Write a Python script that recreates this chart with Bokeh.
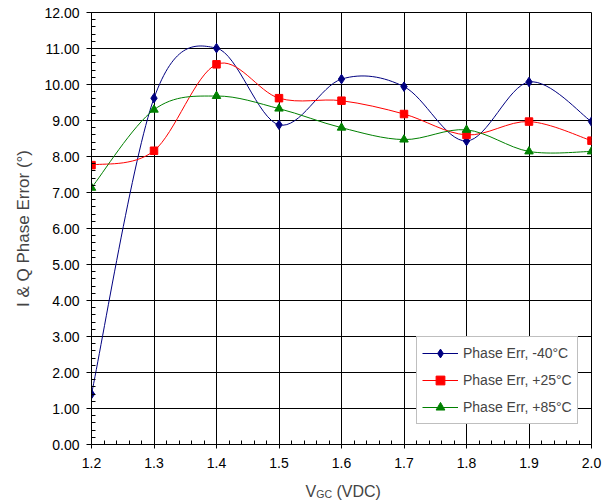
import numpy as np
from bokeh.plotting import figure
from bokeh.layouts import column
from bokeh.models import (Range1d, FixedTicker, NumeralTickFormatter, Legend, LegendItem, Label)
from bokeh.embed import file_html
from bokeh.resources import INLINE

# ---- data ----
vgc = [1.2, 1.3, 1.4, 1.5, 1.6, 1.7, 1.8, 1.9, 2.0]
err_m40 = [1.40, 9.62, 11.01, 8.88, 10.15, 9.94, 8.43, 10.07, 8.97]
err_p25 = [7.76, 8.16, 10.56, 9.62, 9.55, 9.18, 8.60, 8.97, 8.44]
err_p85 = [7.13, 9.30, 9.68, 9.33, 8.80, 8.47, 8.74, 8.14, 8.14]
labels = ["Phase Err, -40°C", "Phase Err, +25°C", "Phase Err, +85°C"]
y_major = [0, 1, 2, 3, 4, 5, 6, 7, 8, 9, 10, 11, 12]
x_major = [1.2, 1.3, 1.4, 1.5, 1.6, 1.7, 1.8, 1.9, 2.0]

FONT = "Liberation Sans"

p = figure(width=605, height=473, output_backend="svg", toolbar_location=None,
           x_range=Range1d(1.2, 2.0), y_range=Range1d(0, 12),
           min_border_left=91, min_border_right=14, min_border_top=12, min_border_bottom=29)
p.background_fill_color = "white"
p.border_fill_color = "white"
p.outline_line_color = "black"
p.outline_line_width = 1

# axes
y_minor = [round(v, 2) for v in np.arange(0, 12.001, 0.2)]
x_minor = [round(v, 3) for v in np.arange(1.2, 2.0001, 0.02)]
p.yaxis.ticker = FixedTicker(ticks=y_major, minor_ticks=y_minor)
p.xaxis.ticker = FixedTicker(ticks=x_major, minor_ticks=x_minor)
p.yaxis.formatter = NumeralTickFormatter(format="0.00")
p.xaxis.formatter = NumeralTickFormatter(format="0.0")
for ax in (p.xaxis[0], p.yaxis[0]):
    ax.axis_line_color = "black"
    ax.major_tick_line_color = "black"
    ax.minor_tick_line_color = "black"
    ax.major_tick_in = 0
    ax.minor_tick_in = 4
    ax.minor_tick_out = 0
    ax.major_label_text_font = FONT
    ax.major_label_text_font_size = "14px"
    ax.major_label_text_color = "black"
p.yaxis.major_tick_out = 5
p.xaxis.major_tick_out = 4
p.yaxis.major_label_standoff = 7
p.xaxis.major_label_standoff = 9
p.yaxis.axis_label = "I & Q Phase Error (°)"
p.yaxis.axis_label_text_font = FONT
p.yaxis.axis_label_text_font_size = "17px"
p.yaxis.axis_label_text_font_style = "normal"
p.yaxis.axis_label_standoff = 8

p.xgrid.grid_line_color = "black"
p.ygrid.grid_line_color = "black"
p.xgrid.grid_line_width = 1
p.ygrid.grid_line_width = 1


def smooth_segments(xs, ys):
    x = np.array(xs, dtype=float)
    y = np.array(ys, dtype=float)
    xp = np.concatenate([[x[0]], x, [x[-1]]])
    yp = np.concatenate([[y[0]], y, [y[-1]]])
    n = len(x)
    d = dict(x0=[], y0=[], x1=[], y1=[], cx0=[], cy0=[], cx1=[], cy1=[])
    for i in range(n - 1):
        a, b, c, e = i, i + 1, i + 2, i + 3
        d["x0"].append(xp[b]); d["y0"].append(yp[b])
        d["x1"].append(xp[c]); d["y1"].append(yp[c])
        d["cx0"].append(xp[b] + (xp[c] - xp[a]) / 6); d["cy0"].append(yp[b] + (yp[c] - yp[a]) / 6)
        d["cx1"].append(xp[c] - (xp[e] - xp[b]) / 6); d["cy1"].append(yp[c] - (yp[e] - yp[b]) / 6)
    return d


series = [
    (err_m40, "#000080", "diamond", 9.5),
    (err_p25, "#FF0000", "square", 7.5),
    (err_p85, "#008000", "triangle", 8.5),
]
items = []
for (vals, col, mk, sz), lab in zip(series, labels):
    seg = smooth_segments(vgc, vals)
    r_line = p.bezier(source=seg, x0="x0", y0="y0", x1="x1", y1="y1",
                      cx0="cx0", cy0="cy0", cx1="cx1", cy1="cy1",
                      line_color=col, line_width=1)
    r_pts = p.scatter(vgc, vals, marker=mk, size=sz,
                      fill_color=col, line_color=col)
    items.append(LegendItem(label=lab, renderers=[r_line, r_pts]))

legend = Legend(items=items, location=(325, 20))
legend.label_text_font = FONT
legend.label_text_font_size = "14px"
legend.glyph_width = 36
legend.glyph_height = 22
legend.label_height = 22
legend.label_standoff = 5
legend.spacing = 5
legend.padding = 5
legend.margin = 0
legend.border_line_color = "#808080"
legend.border_line_width = 1
legend.background_fill_color = "white"
legend.background_fill_alpha = 1
p.add_layout(legend, "center")

# x-axis title (with subscript) in a strip below the chart; x relative to the aligned frame left
t = figure(width=605, height=27, output_backend="svg", toolbar_location=None,
           x_axis_location=None, y_axis_location=None, min_border=0,
           x_range=Range1d(0, 1), y_range=Range1d(0, 1))
t.outline_line_color = None
t.xgrid.visible = False
t.ygrid.visible = False
t.background_fill_color = "white"
t.border_fill_color = "white"
base_y = 9
t.add_layout(Label(x=214, y=base_y, x_units="screen", y_units="screen", text="V",
                   text_font=FONT, text_font_size="16px", text_baseline="alphabetic", text_align="left"))
t.add_layout(Label(x=224.8, y=base_y - 2.5, x_units="screen", y_units="screen", text="GC",
                   text_font=FONT, text_font_size="10.5px", text_baseline="alphabetic", text_align="left"))
t.add_layout(Label(x=245, y=base_y, x_units="screen", y_units="screen", text="(VDC)",
                   text_font=FONT, text_font_size="16px", text_baseline="alphabetic", text_align="left"))

layout = column(p, t, spacing=0)
open("out.html", "w").write(file_html(layout, INLINE))
